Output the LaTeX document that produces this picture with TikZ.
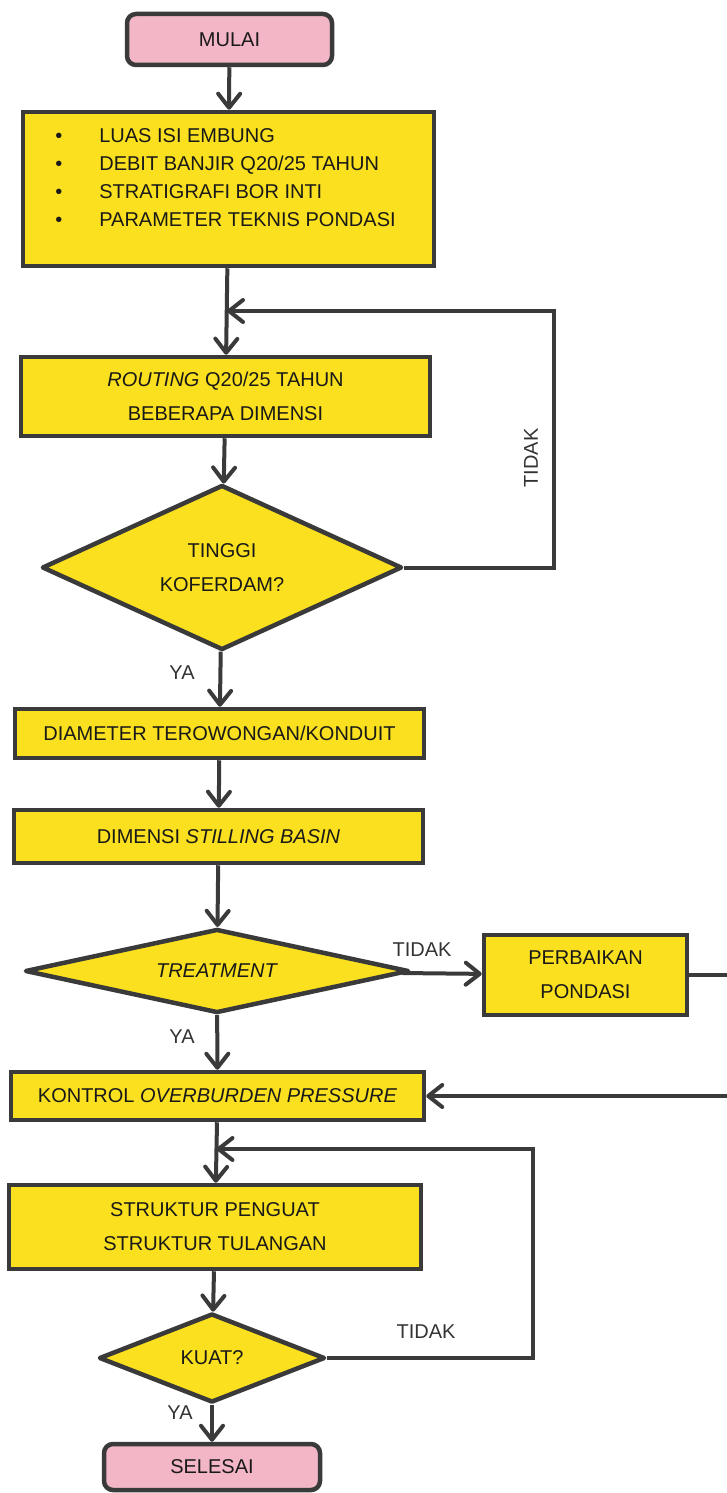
\documentclass[tikz,border=0pt]{standalone}
\usepackage{fontspec}
\setmainfont{Liberation Sans}
\usepackage{tikz}
\usetikzlibrary{
  shapes.geometric, arrows.meta, positioning, calc
}
\definecolor{boxyellow}{HTML}{FAE01E}
\definecolor{boxpink}{HTML}{F2B6C6}
\definecolor{edgegray}{HTML}{3A3A3A}
\tikzstyle{process} = [
  rectangle, draw=edgegray, fill=boxyellow, line width=4.5pt,
  align=center, text=black!90, inner sep=2pt,
  font=\fontsize{20}{34}\selectfont
]
\tikzstyle{terminal} = [process, fill=boxpink, rounded corners=9pt]
\tikzstyle{decision} = [
  diamond, draw=edgegray, fill=boxyellow, line width=4.5pt, line join=round,
  align=center, text=black!90, inner sep=0pt, aspect=2.5,
  font=\fontsize{20}{34}\selectfont
]
\tikzstyle{arrow} = [-{Straight Barb[length=14pt,width=22pt,round]}, line width=4pt, draw=edgegray]
\tikzstyle{answer} = [text=black!80, font=\fontsize{20}{24}\selectfont]

\begin{document}
\begin{tikzpicture}[x=1pt, y=-1pt]
  \useasboundingbox (0,0) rectangle (726,1493);

  \node[terminal, minimum width=205, minimum height=51] (mulai) at (229.5,39.5) {MULAI};
  \node[process, minimum width=411, minimum height=154] (input) at (228.5,189) {%
    \fontsize{20}{28}\selectfont
    \begin{tabular}{@{}c@{\hspace{37pt}}l@{\hspace{6pt}}}
      \textbullet & LUAS ISI EMBUNG\\
      \textbullet & DEBIT BANJIR Q20/25 TAHUN\\
      \textbullet & STRATIGRAFI BOR INTI\\
      \textbullet & PARAMETER TEKNIS PONDASI\\[20pt]
    \end{tabular}};
  \node[process, minimum width=409, minimum height=79] (routing) at (225.5,396.5) {\textit{ROUTING} Q20/25 TAHUN\\BEBERAPA DIMENSI};
  \node[decision, minimum width=360, minimum height=165] (koferdam) at (222,567.5) {TINGGI\\KOFERDAM?};
  \node[process, minimum width=409, minimum height=49] (diameter) at (219.5,733.5) {DIAMETER TEROWONGAN/KONDUIT};
  \node[process, minimum width=409, minimum height=53] (dimensi) at (218.5,836.5) {DIMENSI \textit{STILLING BASIN}};
  \node[decision, aspect=4, minimum width=384, minimum height=84] (treatment) at (217,971) {\textit{TREATMENT}};
  \node[process, minimum width=203, minimum height=80] (perbaikan) at (585.5,975) {PERBAIKAN\\PONDASI};
  \node[process, minimum width=413, minimum height=48] (kontrol) at (217.5,1096) {KONTROL \textit{OVERBURDEN PRESSURE}};
  \node[process, minimum width=412, minimum height=84] (struktur) at (215,1227) {STRUKTUR PENGUAT\\STRUKTUR TULANGAN};
  \node[decision, minimum width=226, minimum height=89] (kuat) at (212,1358) {KUAT?};
  \node[terminal, minimum width=216, minimum height=46] (selesai) at (212,1467) {SELESAI};

  % loop points
  \coordinate (join1) at (227,311);
  \coordinate (turn1) at (554,311);
  \coordinate (join2) at (216.5,1149);
  \coordinate (turn2) at (533,1149);
  \coordinate (offpage) at (745,975);

  \draw[arrow] (mulai) -- (input);
  \draw[arrow] (input) -- (routing);
  \draw[arrow] (routing) -- (koferdam);
  \draw[arrow] (koferdam.east) -| (turn1) -- (join1);
  \draw[arrow] (koferdam) -- (diameter);
  \draw[arrow] (diameter) -- (dimensi);
  \draw[arrow] (dimensi) -- (treatment);
  \draw[arrow] (treatment) -- (perbaikan);
  \draw[arrow] (treatment) -- (kontrol);
  \draw[arrow] (perbaikan.east) -- (offpage) |- (kontrol.east);
  \draw[arrow] (kontrol) -- (struktur);
  \draw[arrow] (struktur) -- (kuat);
  \draw[arrow] (kuat.east) -| (turn2) -- (join2);
  \draw[arrow] (kuat) -- (selesai);

  \node[answer, rotate=90] (tidak1) at (531,458) {TIDAK};
  \node[answer] (ya1) at (182,673) {YA};
  \node[answer] (tidak2) at (422,950) {TIDAK};
  \node[answer] (ya2) at (182,1037) {YA};
  \node[answer] (tidak3) at (426,1332) {TIDAK};
  \node[answer] (ya3) at (180,1413) {YA};

\end{tikzpicture}
\end{document}
